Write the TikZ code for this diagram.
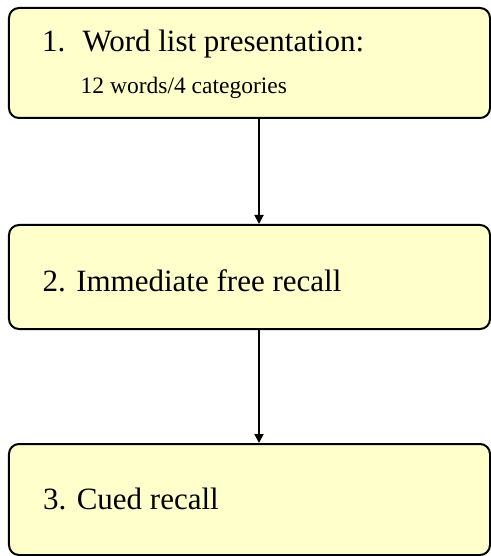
\documentclass[tikz,border=0pt]{standalone}
\usepackage{fontspec}
\setmainfont{Liberation Serif}
\newfontfamily\timesfont{Liberation Serif}
\usetikzlibrary{arrows.meta}
\definecolor{boxfill}{RGB}{255,255,204}
\begin{document}
\begin{tikzpicture}[x=1bp,y=-1bp,
  stepbox/.style={draw=black, line width=2bp, fill=boxfill, rounded corners=10bp,
    rectangle, inner sep=0pt, minimum width=481bp},
  bigtext/.style={anchor=base west, inner sep=0pt, font=\timesfont\fontsize{31bp}{36bp}\selectfont},
  smalltext/.style={anchor=base west, inner sep=0pt, font=\timesfont\fontsize{23.5bp}{28bp}\selectfont},
  link/.style={draw=black, line width=1.8bp, -{Triangle[length=9bp,width=9bp]}}]
\useasboundingbox (0,0) rectangle (491,556);
\node[stepbox, minimum height=110bp] (b1) at (249.5,63) {};
\node[stepbox, minimum height=104bp] (b2) at (249.5,277) {};
\node[stepbox, minimum height=111bp] (b3) at (249.5,499.5) {};
\node[bigtext] (t1) at (42,52) {1.\hspace{0.55em}Word list presentation:};
\node[smalltext] (t1b) at (80.5,94) {12 words/4 categories};
\node[bigtext] (t2) at (42.5,291) {2. Immediate free recall};
\node[bigtext] (t3) at (43,509) {3. Cued recall};
\coordinate (ax) at (259,0);
\draw[link] (b1.south -| ax) -- (b2.north -| ax);
\draw[link] (b2.south -| ax) -- (b3.north -| ax);
\end{tikzpicture}
\end{document}
